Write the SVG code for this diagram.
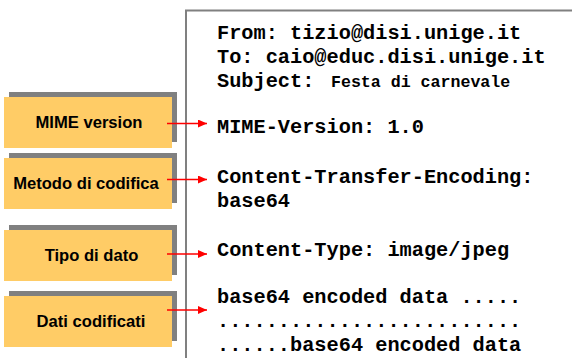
<svg xmlns="http://www.w3.org/2000/svg" width="572" height="358" viewBox="0 0 572 358">
<defs>
<style>
.shadow{fill:#808080}
.box{fill:#FFCC66}
.lbl{font-family:"Liberation Sans",Arial,sans-serif;font-weight:bold;font-size:16.6px;fill:#000;text-anchor:middle}
.mono{font-family:"Liberation Mono","Courier New",monospace;font-weight:bold;font-size:20.3px;fill:#000}
.small{font-size:16.6px}
.arr{stroke:#FF0000;stroke-width:1.5;fill:none;marker-end:url(#ah)}
</style>
<marker id="ah" markerWidth="10" markerHeight="8" refX="9" refY="4" orient="auto" markerUnits="userSpaceOnUse">
<path d="M0,0 L9,4 L0,8 Z" fill="#FF0000"/>
</marker>
</defs>
<rect x="186" y="10.5" width="400" height="360" fill="#fff" stroke="#808080" stroke-width="2"/>
<g id="message">
<text class="mono" x="217" y="39">From: tizio@disi.unige.it</text>
<text class="mono" x="217" y="63">To: caio@educ.disi.unige.it</text>
<text class="mono" x="217" y="87">Subject: <tspan class="small" x="331">Festa di carnevale</tspan></text>
<text class="mono" x="217" y="133">MIME-Version: 1.0</text>
<text class="mono" x="217" y="183">Content-Transfer-Encoding:</text>
<text class="mono" x="217" y="207">base64</text>
<text class="mono" x="217" y="256">Content-Type: image/jpeg</text>
<text class="mono" x="217" y="303">base64 encoded data .....</text>
<text class="mono" x="217" y="327">.........................</text>
<text class="mono" x="217" y="351">......base64 encoded data</text>
</g>
<g id="node-mime">
<rect class="shadow" x="9" y="92" width="168" height="50"/>
<rect class="box" x="4" y="97" width="168" height="51"/>
<text class="lbl" x="89" y="128">MIME version</text>
</g>
<g id="node-metodo">
<rect class="shadow" x="9" y="153" width="168" height="50"/>
<rect class="box" x="4" y="158" width="168" height="51"/>
<text class="lbl" x="86" y="189">Metodo di codifica</text>
</g>
<g id="node-tipo">
<rect class="shadow" x="9" y="225" width="168" height="50"/>
<rect class="box" x="4" y="230" width="168" height="51"/>
<text class="lbl" x="91.5" y="261">Tipo di dato</text>
</g>
<g id="node-dati">
<rect class="shadow" x="9" y="291" width="168" height="50"/>
<rect class="box" x="4" y="296" width="168" height="51"/>
<text class="lbl" x="91" y="327">Dati codificati</text>
</g>
<g id="connectors">
<line class="arr" x1="167" y1="123.5" x2="207" y2="123.5"/>
<line class="arr" x1="167" y1="179.5" x2="207" y2="179.5"/>
<line class="arr" x1="167" y1="254" x2="207" y2="254"/>
<line class="arr" x1="167" y1="310" x2="207" y2="310"/>
</g>
</svg>
